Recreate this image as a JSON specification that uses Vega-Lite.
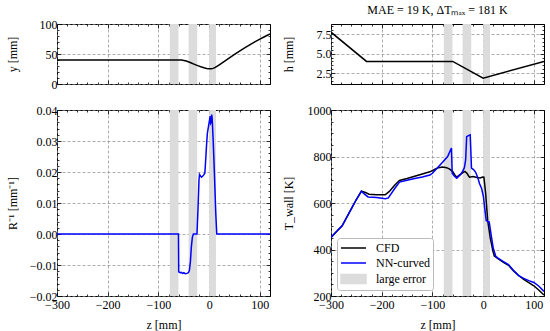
{
"$schema": "https://vega.github.io/schema/vega-lite/v6.json",
"padding": {"left": 5, "right": 5, "top": 3, "bottom": 1},
"config": {
  "font": "Liberation Serif",
  "view": {"stroke": "black", "strokeWidth": 1},
  "axis": {"labelFont": "Liberation Serif", "labelFontSize": 12, "titleFont": "Liberation Serif", "titleFontSize": 12, "titleFontWeight": "normal", "labelColor": "black", "titleColor": "black", "tickColor": "black", "tickWidth": 0.8, "domain": false, "gridColor": "#8a8a8a", "gridDash": [3, 2], "gridWidth": 0.7, "labelOverlap": false, "labelFlush": false, "labelBound": false},
  "title": {"font": "Liberation Serif", "fontSize": 12, "fontWeight": "normal", "color": "black"}
},
"datasets": {
  "bands": [{"z0": -77.5, "z1": -60.5}, {"z0": -40.5, "z1": -23.5}, {"z0": 0, "z1": 13.5}],
  "ycontour": [{"z":-300,"y":40},{"z":-60,"y":40},{"z":-54,"y":39.8},{"z":-50,"y":39.3},{"z":-45,"y":38.2},{"z":-40,"y":36.7},{"z":-35,"y":35},{"z":-30,"y":33.2},{"z":-25,"y":31.4},{"z":-20,"y":29.8},{"z":-15,"y":28.3},{"z":-10,"y":27},{"z":-5,"y":26},{"z":0,"y":25.4},{"z":4,"y":25.3},{"z":8,"y":26},{"z":12,"y":27.6},{"z":16,"y":29.7},{"z":20,"y":32},{"z":30,"y":37.8},{"z":40,"y":43.6},{"z":50,"y":49.3},{"z":60,"y":54.8},{"z":70,"y":60.2},{"z":80,"y":65.3},{"z":90,"y":70.2},{"z":100,"y":74.8},{"z":110,"y":79.2},{"z":120,"y":83.4}],
  "hcontour": [{"z":-300,"h":7.75},{"z":-230,"h":4.0},{"z":-60,"h":4.0},{"z":0,"h":1.85},{"z":120,"h":4.0}],
  "curv": [{"z":-300,"r":0},{"z":-60.5,"r":0},{"z":-60,"r":-0.0122},{"z":-57,"r":-0.0125},{"z":-55,"r":-0.0124},{"z":-52,"r":-0.0127},{"z":-50,"r":-0.0125},{"z":-47,"r":-0.0128},{"z":-44,"r":-0.0127},{"z":-41,"r":-0.0125},{"z":-39,"r":-0.0118},{"z":-37,"r":-0.009},{"z":-35,"r":-0.004},{"z":-33,"r":-0.001},{"z":-31,"r":0},{"z":-24,"r":0},{"z":-22,"r":0.008},{"z":-20,"r":0.0175},{"z":-19,"r":0.0192},{"z":-17,"r":0.0187},{"z":-15,"r":0.0183},{"z":-13,"r":0.0186},{"z":-11,"r":0.019},{"z":-8.5,"r":0.0196},{"z":-7.5,"r":0.022},{"z":-5,"r":0.029},{"z":-3.5,"r":0.0325},{"z":-1.5,"r":0.0345},{"z":0.5,"r":0.0365},{"z":2,"r":0.038},{"z":3,"r":0.0357},{"z":4,"r":0.036},{"z":5,"r":0.0385},{"z":6,"r":0.0372},{"z":8,"r":0.03},{"z":10.5,"r":0.019},{"z":13,"r":0.007},{"z":15,"r":0},{"z":120,"r":0}],
  "twall": [
    {"z":-300,"T":452,"series":"CFD"},{"z":-290,"T":475,"series":"CFD"},{"z":-278,"T":502,"series":"CFD"},{"z":-260,"T":575,"series":"CFD"},{"z":-250,"T":615,"series":"CFD"},{"z":-240,"T":651,"series":"CFD"},{"z":-232,"T":645,"series":"CFD"},{"z":-225,"T":638,"series":"CFD"},{"z":-210,"T":636,"series":"CFD"},{"z":-193,"T":635,"series":"CFD"},{"z":-185,"T":650,"series":"CFD"},{"z":-175,"T":675,"series":"CFD"},{"z":-165,"T":697,"series":"CFD"},{"z":-150,"T":705,"series":"CFD"},{"z":-135,"T":715,"series":"CFD"},{"z":-120,"T":725,"series":"CFD"},{"z":-105,"T":734,"series":"CFD"},{"z":-95,"T":745,"series":"CFD"},{"z":-88,"T":752,"series":"CFD"},{"z":-80,"T":755,"series":"CFD"},{"z":-72,"T":752,"series":"CFD"},{"z":-66,"T":746,"series":"CFD"},{"z":-60,"T":735,"series":"CFD"},{"z":-55,"T":718,"series":"CFD"},{"z":-52,"T":711,"series":"CFD"},{"z":-47,"T":720,"series":"CFD"},{"z":-40,"T":731,"series":"CFD"},{"z":-36,"T":736,"series":"CFD"},{"z":-32,"T":728,"series":"CFD"},{"z":-27,"T":711,"series":"CFD"},{"z":-20,"T":714,"series":"CFD"},{"z":-12,"T":710,"series":"CFD"},{"z":-6,"T":708,"series":"CFD"},{"z":-1,"T":712,"series":"CFD"},{"z":1.5,"T":711,"series":"CFD"},{"z":5,"T":640,"series":"CFD"},{"z":9,"T":524,"series":"CFD"},{"z":14,"T":450,"series":"CFD"},{"z":19,"T":395,"series":"CFD"},{"z":22,"T":372,"series":"CFD"},{"z":30,"T":360,"series":"CFD"},{"z":40,"T":345,"series":"CFD"},{"z":50,"T":332,"series":"CFD"},{"z":60,"T":308,"series":"CFD"},{"z":70,"T":288,"series":"CFD"},{"z":80,"T":272,"series":"CFD"},{"z":90,"T":258,"series":"CFD"},{"z":100,"T":244,"series":"CFD"},{"z":110,"T":225,"series":"CFD"},{"z":120,"T":204,"series":"CFD"},
    {"z":-300,"T":452,"series":"NN-curved"},{"z":-290,"T":475,"series":"NN-curved"},{"z":-278,"T":502,"series":"NN-curved"},{"z":-260,"T":575,"series":"NN-curved"},{"z":-250,"T":615,"series":"NN-curved"},{"z":-240,"T":651,"series":"NN-curved"},{"z":-235,"T":640,"series":"NN-curved"},{"z":-227,"T":626,"series":"NN-curved"},{"z":-210,"T":624,"series":"NN-curved"},{"z":-193,"T":618,"series":"NN-curved"},{"z":-187,"T":622,"series":"NN-curved"},{"z":-175,"T":660,"series":"NN-curved"},{"z":-165,"T":690,"series":"NN-curved"},{"z":-150,"T":698,"series":"NN-curved"},{"z":-135,"T":705,"series":"NN-curved"},{"z":-120,"T":712,"series":"NN-curved"},{"z":-105,"T":720,"series":"NN-curved"},{"z":-100,"T":728,"series":"NN-curved"},{"z":-95,"T":740,"series":"NN-curved"},{"z":-90,"T":752,"series":"NN-curved"},{"z":-80,"T":775,"series":"NN-curved"},{"z":-70,"T":800,"series":"NN-curved"},{"z":-62.5,"T":836,"series":"NN-curved"},{"z":-61,"T":728,"series":"NN-curved"},{"z":-57,"T":716,"series":"NN-curved"},{"z":-52,"T":707,"series":"NN-curved"},{"z":-45,"T":722,"series":"NN-curved"},{"z":-41,"T":733,"series":"NN-curved"},{"z":-37,"T":752,"series":"NN-curved"},{"z":-34.5,"T":785,"series":"NN-curved"},{"z":-32.5,"T":885,"series":"NN-curved"},{"z":-29,"T":890,"series":"NN-curved"},{"z":-25.5,"T":893,"series":"NN-curved"},{"z":-23,"T":750,"series":"NN-curved"},{"z":-19,"T":744,"series":"NN-curved"},{"z":-15,"T":733,"series":"NN-curved"},{"z":-11,"T":712,"series":"NN-curved"},{"z":-7,"T":683,"series":"NN-curved"},{"z":-3,"T":662,"series":"NN-curved"},{"z":0.5,"T":628,"series":"NN-curved"},{"z":3,"T":580,"series":"NN-curved"},{"z":6,"T":525,"series":"NN-curved"},{"z":9,"T":521,"series":"NN-curved"},{"z":12,"T":518,"series":"NN-curved"},{"z":16,"T":460,"series":"NN-curved"},{"z":20,"T":405,"series":"NN-curved"},{"z":25,"T":370,"series":"NN-curved"},{"z":30,"T":362,"series":"NN-curved"},{"z":40,"T":348,"series":"NN-curved"},{"z":50,"T":335,"series":"NN-curved"},{"z":60,"T":310,"series":"NN-curved"},{"z":70,"T":288,"series":"NN-curved"},{"z":80,"T":276,"series":"NN-curved"},{"z":90,"T":266,"series":"NN-curved"},{"z":100,"T":258,"series":"NN-curved"},{"z":110,"T":242,"series":"NN-curved"},{"z":120,"T":220,"series":"NN-curved"}
  ]
},
"concat": [
  {
    "width": 213, "height": 60,
    "layer": [
      {"data": {"name": "bands"}, "mark": {"type": "rect", "color": "#dcdcdc"},
       "encoding": {"x": {"field": "z0", "type": "quantitative", "scale": {"domain": [-300, 120], "nice": false}, "axis": null}, "x2": {"field": "z1"}}},
      {"data": {"name": "ycontour"}, "mark": {"type": "line", "color": "black", "strokeWidth": 1.5, "clip": true},
       "encoding": {
         "x": {"field": "z", "type": "quantitative", "scale": {"domain": [-300, 120], "nice": false},
               "axis": {"orient": "bottom", "values": [-300,-280,-260,-240,-220,-200,-180,-160,-140,-120,-100,-80,-60,-40,-20,0,20,40,60,80,100,120], "grid": true, "gridOpacity": {"condition": {"test": "datum.value % 100 !== 0", "value": 0}, "value": 1}, "tickSize": {"condition": {"test": "datum.value % 100 !== 0", "value": -2}, "value": -4}, "labels": false, "title": null}},
         "y": {"field": "y", "type": "quantitative", "scale": {"domain": [0, 100], "nice": false},
               "axis": {"orient": "left", "values": [0,10,20,30,40,50,60,70,80,90,100], "grid": true, "gridOpacity": {"condition": {"test": "datum.value % 50 !== 0", "value": 0}, "value": 1}, "tickSize": {"condition": {"test": "datum.value % 50 !== 0", "value": -2}, "value": -4}, "labelExpr": "datum.value % 50 === 0 ? format(datum.value, 'd') : ''", "labelPadding": 4, "labelFont": "Liberation Serif", "labelFontSize": 12, "title": "y [mm]", "titleFont": "Liberation Serif", "titleFontSize": 12, "titleFontWeight": "normal", "titlePadding": 8, "minExtent": 30, "maxExtent": 30}}
       }},
      {"data": {"name": "ycontour"}, "mark": {"type": "line", "strokeOpacity": 0},
       "encoding": {
         "x": {"field": "z", "type": "quantitative", "scale": {"domain": [-300, 120], "nice": false},
               "axis": {"orient": "top", "values": [-300,-280,-260,-240,-220,-200,-180,-160,-140,-120,-100,-80,-60,-40,-20,0,20,40,60,80,100,120], "grid": false, "tickSize": {"condition": {"test": "datum.value % 100 !== 0", "value": -2}, "value": -4}, "labels": false, "title": null}},
         "y": {"field": "y", "type": "quantitative", "scale": {"domain": [0, 100], "nice": false},
               "axis": {"orient": "right", "values": [0,10,20,30,40,50,60,70,80,90,100], "grid": false, "tickSize": {"condition": {"test": "datum.value % 50 !== 0", "value": -2}, "value": -4}, "labels": false, "title": null}}
       }}
    ],
    "resolve": {"axis": {"x": "independent", "y": "independent"}}
  },
  {
    "width": 213, "height": 60,
    "title": {"text": "MAE = 19 K, ΔTₘₐₓ = 181 K", "offset": 3, "font": "Liberation Serif", "fontSize": 12, "fontWeight": "normal", "color": "black"},
    "layer": [
      {"data": {"name": "bands"}, "mark": {"type": "rect", "color": "#dcdcdc"},
       "encoding": {"x": {"field": "z0", "type": "quantitative", "scale": {"domain": [-300, 120], "nice": false}, "axis": null}, "x2": {"field": "z1"}}},
      {"data": {"name": "hcontour"}, "mark": {"type": "line", "color": "black", "strokeWidth": 1.5, "clip": true},
       "encoding": {
         "x": {"field": "z", "type": "quantitative", "scale": {"domain": [-300, 120], "nice": false},
               "axis": {"orient": "bottom", "values": [-300,-280,-260,-240,-220,-200,-180,-160,-140,-120,-100,-80,-60,-40,-20,0,20,40,60,80,100,120], "grid": true, "gridOpacity": {"condition": {"test": "datum.value % 100 !== 0", "value": 0}, "value": 1}, "tickSize": {"condition": {"test": "datum.value % 100 !== 0", "value": -2}, "value": -4}, "labels": false, "title": null}},
         "y": {"field": "h", "type": "quantitative", "scale": {"domain": [1.1, 8.8], "nice": false, "zero": false},
               "axis": {"orient": "left", "values": [1.5,2,2.5,3,3.5,4,4.5,5,5.5,6,6.5,7,7.5,8,8.5], "grid": true, "gridOpacity": {"condition": {"test": "abs(datum.value/2.5 - round(datum.value/2.5)) > 0.001", "value": 0}, "value": 1}, "tickSize": {"condition": {"test": "abs(datum.value/2.5 - round(datum.value/2.5)) > 0.001", "value": -2}, "value": -4}, "labelExpr": "abs(datum.value/2.5 - round(datum.value/2.5)) > 0.001 ? '' : format(datum.value, '.1f')", "labelPadding": 4, "labelFont": "Liberation Serif", "labelFontSize": 12, "title": "h [mm]", "titleFont": "Liberation Serif", "titleFontSize": 12, "titleFontWeight": "normal", "titlePadding": 8, "minExtent": 28, "maxExtent": 28}}
       }},
      {"data": {"name": "hcontour"}, "mark": {"type": "line", "strokeOpacity": 0},
       "encoding": {
         "x": {"field": "z", "type": "quantitative", "scale": {"domain": [-300, 120], "nice": false},
               "axis": {"orient": "top", "values": [-300,-280,-260,-240,-220,-200,-180,-160,-140,-120,-100,-80,-60,-40,-20,0,20,40,60,80,100,120], "grid": false, "tickSize": {"condition": {"test": "datum.value % 100 !== 0", "value": -2}, "value": -4}, "labels": false, "title": null}},
         "y": {"field": "h", "type": "quantitative", "scale": {"domain": [1.1, 8.8], "nice": false, "zero": false},
               "axis": {"orient": "right", "values": [1.5,2,2.5,3,3.5,4,4.5,5,5.5,6,6.5,7,7.5,8,8.5], "grid": false, "tickSize": {"condition": {"test": "abs(datum.value/2.5 - round(datum.value/2.5)) > 0.001", "value": -2}, "value": -4}, "labels": false, "title": null}}
       }}
    ],
    "resolve": {"axis": {"x": "independent", "y": "independent"}}
  },
  {
    "width": 213, "height": 186,
    "layer": [
      {"data": {"name": "bands"}, "mark": {"type": "rect", "color": "#dcdcdc"},
       "encoding": {"x": {"field": "z0", "type": "quantitative", "scale": {"domain": [-300, 120], "nice": false}, "axis": null}, "x2": {"field": "z1"}}},
      {"data": {"name": "curv"}, "mark": {"type": "line", "color": "blue", "strokeWidth": 1.5, "clip": true},
       "encoding": {
         "x": {"field": "z", "type": "quantitative", "scale": {"domain": [-300, 120], "nice": false},
               "axis": {"orient": "bottom", "values": [-300,-280,-260,-240,-220,-200,-180,-160,-140,-120,-100,-80,-60,-40,-20,0,20,40,60,80,100,120], "grid": true, "gridOpacity": {"condition": {"test": "datum.value % 100 !== 0", "value": 0}, "value": 1}, "tickSize": {"condition": {"test": "datum.value % 100 !== 0", "value": -2}, "value": -4}, "labelExpr": "datum.value % 100 === 0 ? format(datum.value, 'd') : ''", "labelPadding": 7, "labelFont": "Liberation Serif", "labelFontSize": 12, "title": "z [mm]", "titleFont": "Liberation Serif", "titleFontSize": 12, "titleFontWeight": "normal", "titlePadding": 7}},
         "y": {"field": "r", "type": "quantitative", "scale": {"domain": [-0.02, 0.04], "nice": false},
               "axis": {"orient": "left", "values": [-0.02,-0.018,-0.016,-0.014,-0.012,-0.01,-0.008,-0.006,-0.004,-0.002,0,0.002,0.004,0.006,0.008,0.01,0.012,0.014,0.016,0.018,0.02,0.022,0.024,0.026,0.028,0.03,0.032,0.034,0.036,0.038,0.04], "grid": true, "gridOpacity": {"condition": {"test": "abs(datum.value*100 - round(datum.value*100)) > 0.001", "value": 0}, "value": 1}, "tickSize": {"condition": {"test": "abs(datum.value*100 - round(datum.value*100)) > 0.001", "value": -2}, "value": -4}, "labelExpr": "abs(datum.value*100 - round(datum.value*100)) > 0.001 ? '' : format(datum.value, '.2f')", "labelPadding": 4, "labelFont": "Liberation Serif", "labelFontSize": 12, "title": "R⁻¹ [mm⁻¹]", "titleFont": "Liberation Serif", "titleFontSize": 12, "titleFontWeight": "normal", "titlePadding": 8, "minExtent": 30, "maxExtent": 30}}
       }},
      {"data": {"name": "curv"}, "mark": {"type": "line", "strokeOpacity": 0},
       "encoding": {
         "x": {"field": "z", "type": "quantitative", "scale": {"domain": [-300, 120], "nice": false},
               "axis": {"orient": "top", "values": [-300,-280,-260,-240,-220,-200,-180,-160,-140,-120,-100,-80,-60,-40,-20,0,20,40,60,80,100,120], "grid": false, "tickSize": {"condition": {"test": "datum.value % 100 !== 0", "value": -2}, "value": -4}, "labels": false, "title": null}},
         "y": {"field": "r", "type": "quantitative", "scale": {"domain": [-0.02, 0.04], "nice": false},
               "axis": {"orient": "right", "values": [-0.02,-0.018,-0.016,-0.014,-0.012,-0.01,-0.008,-0.006,-0.004,-0.002,0,0.002,0.004,0.006,0.008,0.01,0.012,0.014,0.016,0.018,0.02,0.022,0.024,0.026,0.028,0.03,0.032,0.034,0.036,0.038,0.04], "grid": false, "tickSize": {"condition": {"test": "abs(datum.value*100 - round(datum.value*100)) > 0.001", "value": -2}, "value": -4}, "labels": false, "title": null}}
       }}
    ],
    "resolve": {"axis": {"x": "independent", "y": "independent"}}
  },
  {
    "width": 213, "height": 186,
    "layer": [
      {"data": {"name": "bands"}, "mark": {"type": "rect"},
       "encoding": {"x": {"field": "z0", "type": "quantitative", "scale": {"domain": [-300, 120], "nice": false}, "axis": null}, "x2": {"field": "z1"},
                    "color": {"datum": "large error", "type": "nominal", "scale": {"domain": ["CFD", "NN-curved", "large error"], "range": ["black", "blue", "#dcdcdc"]}}}},
      {"data": {"name": "twall"}, "mark": {"type": "line", "strokeWidth": 1.5, "clip": true},
       "encoding": {
         "x": {"field": "z", "type": "quantitative", "scale": {"domain": [-300, 120], "nice": false},
               "axis": {"orient": "bottom", "values": [-300,-280,-260,-240,-220,-200,-180,-160,-140,-120,-100,-80,-60,-40,-20,0,20,40,60,80,100,120], "grid": true, "gridOpacity": {"condition": {"test": "datum.value % 100 !== 0", "value": 0}, "value": 1}, "tickSize": {"condition": {"test": "datum.value % 100 !== 0", "value": -2}, "value": -4}, "labelExpr": "datum.value % 100 === 0 ? format(datum.value, 'd') : ''", "labelPadding": 7, "labelFont": "Liberation Serif", "labelFontSize": 12, "title": "z [mm]", "titleFont": "Liberation Serif", "titleFontSize": 12, "titleFontWeight": "normal", "titlePadding": 7}},
         "y": {"field": "T", "type": "quantitative", "scale": {"domain": [200, 1000], "nice": false},
               "axis": {"orient": "left", "values": [200,250,300,350,400,450,500,550,600,650,700,750,800,850,900,950,1000], "grid": true, "gridOpacity": {"condition": {"test": "datum.value % 200 !== 0", "value": 0}, "value": 1}, "tickSize": {"condition": {"test": "datum.value % 200 !== 0", "value": -2}, "value": -4}, "labelExpr": "datum.value % 200 === 0 ? format(datum.value, 'd') : ''", "labelPadding": 4, "labelFont": "Liberation Serif", "labelFontSize": 12, "title": "T_wall [K]", "titleFont": "Liberation Serif", "titleFontSize": 12, "titleFontWeight": "normal", "titlePadding": 8, "minExtent": 28, "maxExtent": 28}},
         "color": {"field": "series", "type": "nominal", "scale": {"domain": ["CFD", "NN-curved", "large error"], "range": ["black", "blue", "#dcdcdc"]},
                   "legend": {"title": null, "orient": "bottom-left", "offset": 6, "padding": 3, "fillColor": "white", "strokeColor": "#bbbbbb", "cornerRadius": 3, "labelFont": "Liberation Serif", "labelFontSize": 12, "labelColor": "black", "labelOffset": 22, "rowPadding": 2, "symbolSize": 144,
                              "encode": {"symbols": {"update": {
                                 "shape": {"signal": "datum.label === 'large error' ? 'M-1,-0.75H3.17V0.75H-1Z' : 'M-1,0H3.17'"},
                                 "fill": {"signal": "datum.label === 'large error' ? '#dcdcdc' : 'transparent'"},
                                 "stroke": {"signal": "datum.label === 'CFD' ? 'black' : (datum.label === 'NN-curved' ? 'blue' : 'transparent')"},
                                 "strokeWidth": {"value": 1.5},
                                 "opacity": {"value": 1}}}}}}
       }},
      {"data": {"name": "twall"}, "mark": {"type": "line", "strokeOpacity": 0},
       "encoding": {
         "x": {"field": "z", "type": "quantitative", "scale": {"domain": [-300, 120], "nice": false},
               "axis": {"orient": "top", "values": [-300,-280,-260,-240,-220,-200,-180,-160,-140,-120,-100,-80,-60,-40,-20,0,20,40,60,80,100,120], "grid": false, "tickSize": {"condition": {"test": "datum.value % 100 !== 0", "value": -2}, "value": -4}, "labels": false, "title": null}},
         "y": {"field": "T", "type": "quantitative", "scale": {"domain": [200, 1000], "nice": false},
               "axis": {"orient": "right", "values": [200,250,300,350,400,450,500,550,600,650,700,750,800,850,900,950,1000], "grid": false, "tickSize": {"condition": {"test": "datum.value % 200 !== 0", "value": -2}, "value": -4}, "labels": false, "title": null}},
         "detail": {"field": "series", "type": "nominal"}
       }}
    ],
    "resolve": {"axis": {"x": "independent", "y": "independent"}}
  }
],
"columns": 2,
"spacing": {"row": 12, "column": 10},
"align": "each",
"resolve": {"scale": {"color": "independent"}, "legend": {"color": "independent"}}
}
